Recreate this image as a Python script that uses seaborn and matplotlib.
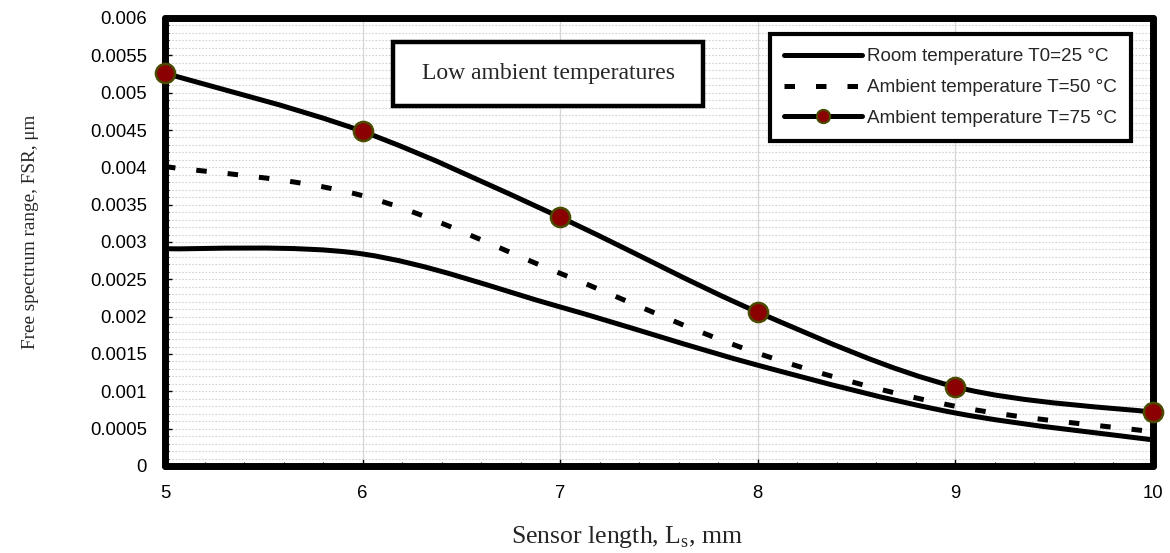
import numpy as np
import pandas as pd
import seaborn as sns
import matplotlib
matplotlib.use("Agg")
import matplotlib.pyplot as plt
from matplotlib.path import Path
from matplotlib.patches import PathPatch, Rectangle
from matplotlib.lines import Line2D
from matplotlib.ticker import MultipleLocator, FixedLocator

# ---- data ----
sensor_length = [5, 6, 7, 8, 9, 10]
fsr_room_25 = [0.00291, 0.00284, 0.00213, 0.00135, 0.00071, 0.00035]
fsr_amb_50 = [0.00401, 0.00362, 0.00258, 0.00151, 0.00080, 0.00046]
fsr_amb_75 = [0.00526, 0.00448, 0.00333, 0.00206, 0.00106, 0.00072]
series_names = ["Room temperature T0=25 °C",
                "Ambient temperature T=50 °C",
                "Ambient temperature T=75 °C"]
y_tick_values = [0, 0.0005, 0.001, 0.0015, 0.002, 0.0025, 0.003,
                 0.0035, 0.004, 0.0045, 0.005, 0.0055, 0.006]
y_tick_labels = ["0", "0.0005", "0.001", "0.0015", "0.002", "0.0025", "0.003",
                 "0.0035", "0.004", "0.0045", "0.005", "0.0055", "0.006"]
x_tick_values = [5, 6, 7, 8, 9, 10]

df = pd.DataFrame({
    "x": sensor_length * 3,
    "y": fsr_room_25 + fsr_amb_50 + fsr_amb_75,
    "series": [series_names[0]] * 6 + [series_names[1]] * 6 + [series_names[2]] * 6,
})

sns.set_theme(style="white")
plt.rcParams["font.family"] = ["Liberation Sans", "DejaVu Sans"]

fig = plt.figure(figsize=(11.7, 5.53), dpi=100)
ax = fig.add_axes([165 / 1170, 87 / 553, (1153 - 165) / 1170, (466 - 18) / 553])

LW = 3.6
DASH = (2.1, 4.2)
MFC = "#8b0000"
MEC = "#4a4a00"


def smooth_path(xs, ys):
    """Excel-like smoothed line: cubic Bezier through the points."""
    pts = np.column_stack([xs, ys]).astype(float)
    n = len(pts)
    verts = [pts[0]]
    codes = [Path.MOVETO]
    for i in range(n - 1):
        p0 = pts[i - 1] if i > 0 else pts[i]
        p1 = pts[i]
        p2 = pts[i + 1]
        p3 = pts[i + 2] if i + 2 < n else pts[i + 1]
        c1 = p1 + (p2 - p0) / 6.0
        c2 = p2 - (p3 - p1) / 6.0
        verts += [c1, c2, p2]
        codes += [Path.CURVE4] * 3
    return Path(verts, codes)


for name, style in zip(series_names, ["-", "dash", "-"]):
    sub = df[df["series"] == name]
    patch = PathPatch(smooth_path(sub["x"].values, sub["y"].values),
                      facecolor="none", edgecolor="black", lw=LW,
                      capstyle="butt", zorder=3)
    if style == "dash":
        patch.set_linestyle((0, DASH))
    ax.add_patch(patch)

# markers for the 75 °C series
sub75 = df[df["series"] == series_names[2]]
sns.scatterplot(data=sub75, x="x", y="y", ax=ax, color=MFC, edgecolor=MEC,
                linewidth=1.8, s=190, zorder=6, clip_on=False, legend=False)

ax.set_xlim(5, 10)
ax.set_ylim(0, 0.006)

# grid
ax.yaxis.set_minor_locator(MultipleLocator(0.0001))
ax.xaxis.set_minor_locator(MultipleLocator(0.2))
ax.grid(which="both", axis="y", color="#d2d2d2", lw=0.8, ls=(0, (1.5, 1.5)), zorder=0)
ax.grid(which="major", axis="x", color="#d6d6d6", lw=0.9, ls="-", zorder=0)
ax.set_axisbelow(True)

ax.yaxis.set_major_locator(FixedLocator(y_tick_values))
ax.set_yticklabels(y_tick_labels)
ax.xaxis.set_major_locator(FixedLocator(x_tick_values))
ax.set_xticklabels([str(v) for v in x_tick_values])

ax.tick_params(axis="both", which="major", direction="in", length=5, width=1,
               labelsize=13.3, pad=13, colors="black")
ax.tick_params(axis="x", which="major", pad=14)
ax.tick_params(axis="both", which="minor", direction="in", length=3, width=0.8,
               colors="black")
ax.tick_params(axis="both", which="both", left=True, bottom=True)

for sp in ax.spines.values():
    sp.set_visible(True)
    sp.set_color("black")
    sp.set_linewidth(5)
    sp.set_capstyle("round")

ax.set_xlabel("Sensor length, L$_\\mathregular{s}$, mm", family="Liberation Serif",
              fontsize=18.5)
ax.set_ylabel("Free spectrum range, FSR, μm", family="Liberation Serif",
              fontsize=13.8)
ax.xaxis.label.set_va("center")
ax.yaxis.label.set_va("center")
ax.xaxis.set_label_coords((627.5 - 165) / 988, (466 - 537) / 448)
ax.yaxis.set_label_coords((31 - 165) / 988, (466 - 232) / 448)

# legend
handles = [
    Line2D([], [], color="black", lw=LW, ls="-"),
    Line2D([], [], color="black", lw=LW, ls=(0, DASH)),
    Line2D([], [], color="black", lw=LW, ls="-", marker="o", markersize=9.5,
           markerfacecolor=MFC, markeredgecolor=MEC, markeredgewidth=1.5),
]
leg = ax.legend(handles, series_names, loc="upper left",
                bbox_to_anchor=((770 - 165) / 988, (466 - 34) / 448), borderaxespad=0,
                frameon=True, fancybox=False, fontsize=13.6,
                handlelength=4.1, handletextpad=0.28, labelspacing=0.72,
                borderpad=0.75)
leg.get_frame().set_edgecolor("black")
leg.get_frame().set_linewidth(3)
leg.get_frame().set_facecolor("white")
leg.get_frame().set_alpha(1)
leg.set_zorder(10)

# annotation box
bx0, bx1, by0, by1 = 393, 703, 106, 42
ax.add_patch(Rectangle(((bx0 - 165) / 988, (466 - by0) / 448),
                       (bx1 - bx0) / 988, (by0 - by1) / 448, transform=ax.transAxes,
                       facecolor="white", edgecolor="black", lw=3.2, zorder=8))
ax.text(((bx0 + bx1) / 2 - 165) / 988, (466 - (by0 + by1) / 2) / 448,
        "Low ambient temperatures", transform=ax.transAxes,
        ha="center", va="center", family="Liberation Serif", fontsize=17,
        zorder=9)

fig.savefig("out.png", dpi=100)
